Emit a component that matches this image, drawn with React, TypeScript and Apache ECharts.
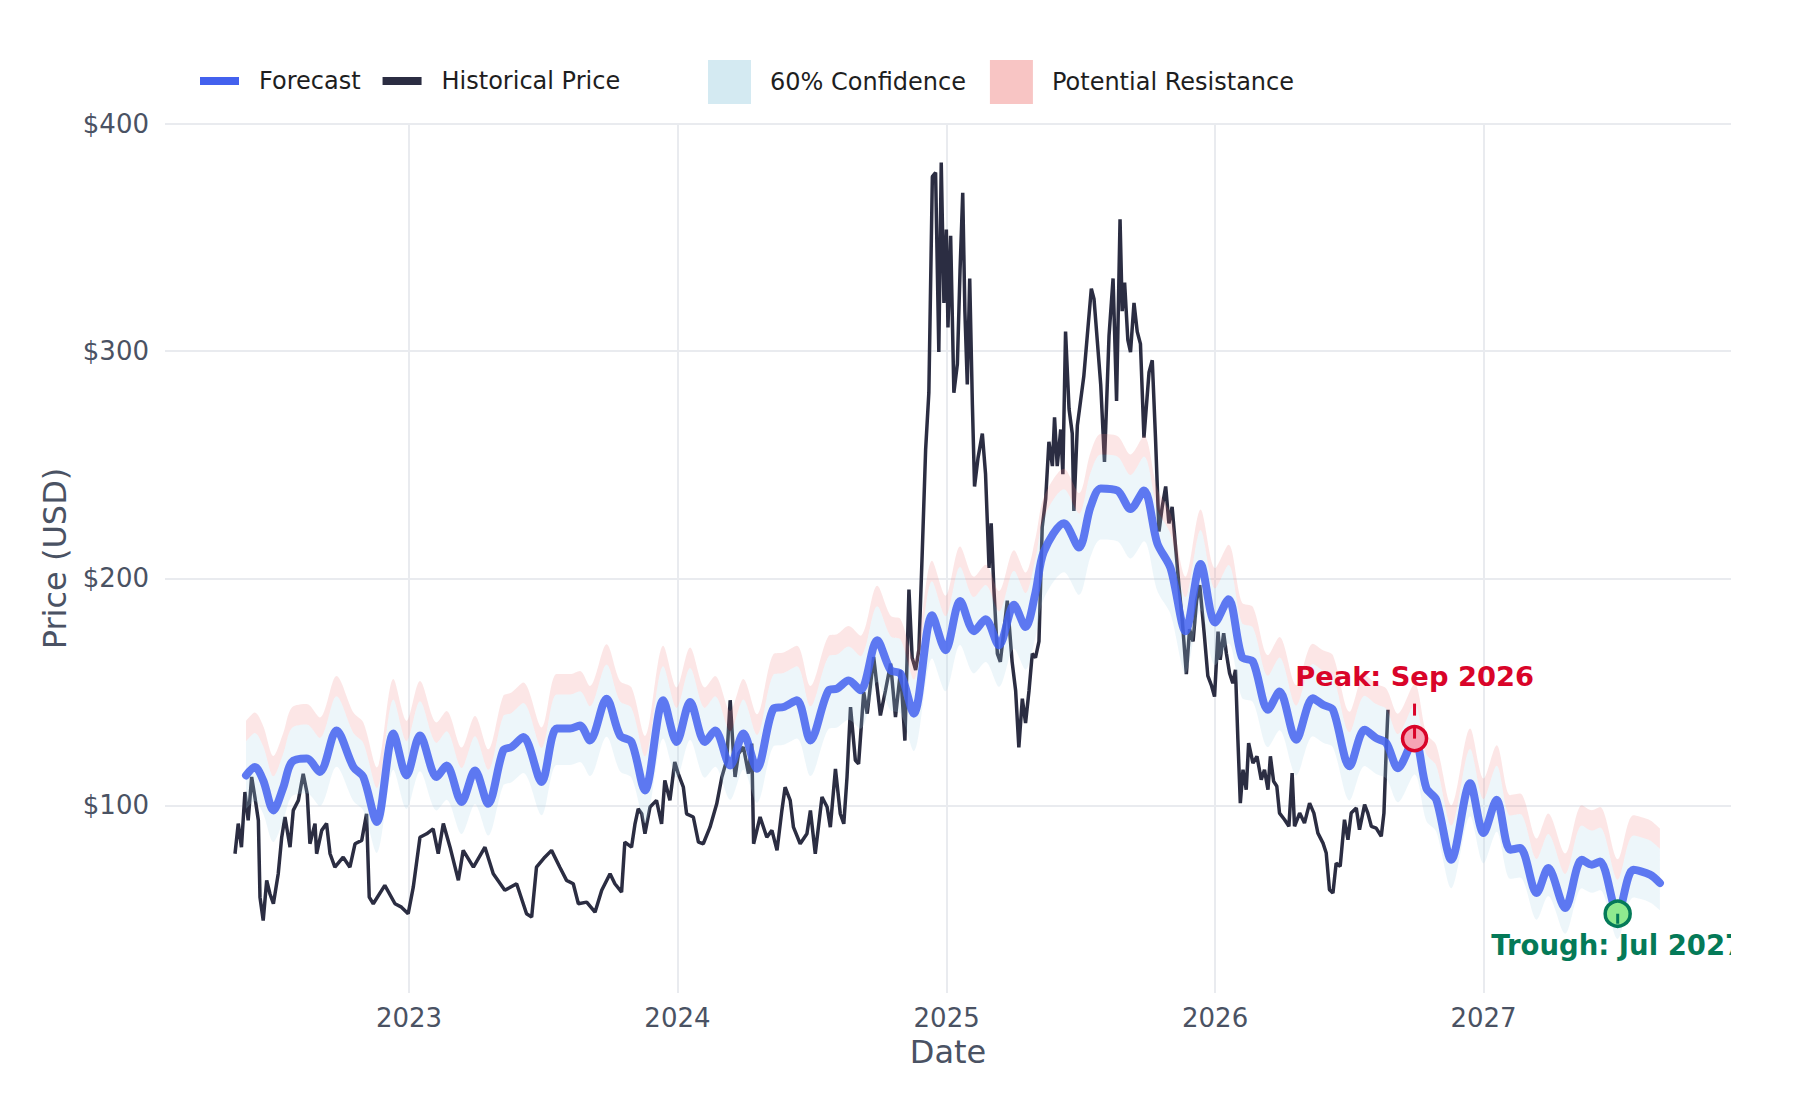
import React, { useEffect, useRef } from 'react';
import * as echarts from 'echarts';

// ---------- DATA ----------
// Historical price: [decimal year, USD]
const historicalPrice: [number, number][] = [
  [2022.352, 78.7], [2022.364, 92], [2022.376, 81.6], [2022.389, 105.9], [2022.401, 93.4], [2022.414, 112.5],
  [2022.426, 103.7], [2022.439, 93.4], [2022.445, 59.6], [2022.457, 49.3], [2022.47, 67], [2022.482, 61.1],
  [2022.495, 56.7], [2022.513, 69.9], [2022.526, 86], [2022.538, 94.9], [2022.557, 81.6], [2022.569, 97.8],
  [2022.588, 102.2], [2022.606, 113.9], [2022.621, 105.1], [2022.631, 83.1], [2022.65, 92], [2022.656, 78.7],
  [2022.675, 89], [2022.693, 92], [2022.706, 78.7], [2022.724, 72.8], [2022.755, 77.2], [2022.78, 72.8],
  [2022.799, 83.1], [2022.824, 84.6], [2022.842, 96.3], [2022.852, 59.6], [2022.867, 56.7], [2022.91, 64.8],
  [2022.948, 56.7], [2022.972, 55.2], [2022.997, 52.3], [2023.016, 64], [2023.041, 86], [2023.066, 87.5],
  [2023.09, 89.7], [2023.109, 78.7], [2023.128, 92], [2023.153, 81.6], [2023.184, 67], [2023.202, 80.2],
  [2023.24, 72.8], [2023.283, 81.6], [2023.314, 69.9], [2023.357, 62.6], [2023.401, 65.5], [2023.438, 52.3],
  [2023.457, 50.8], [2023.475, 72.8], [2023.506, 77.2], [2023.531, 80.2], [2023.562, 72.8], [2023.587, 67],
  [2023.612, 65.5], [2023.631, 56.7], [2023.662, 57.4], [2023.693, 53], [2023.718, 62.6], [2023.749, 69.9],
  [2023.767, 65.5], [2023.792, 61.8], [2023.804, 83.8], [2023.829, 81.6], [2023.842, 91.9], [2023.854, 98.5],
  [2023.867, 96.3], [2023.879, 87.5], [2023.898, 99.3], [2023.922, 102.2], [2023.941, 91.9], [2023.953, 111],
  [2023.972, 102.2], [2023.99, 119.1], [2024.003, 114], [2024.022, 108], [2024.034, 96.3], [2024.059, 94.9],
  [2024.078, 83.8], [2024.096, 83.1], [2024.121, 90.4], [2024.146, 100.7], [2024.165, 112.5], [2024.183, 119.8],
  [2024.196, 146.3], [2024.208, 122.8], [2024.214, 112.5], [2024.227, 122.8], [2024.245, 125.7], [2024.264, 114],
  [2024.276, 127.2], [2024.283, 83.1], [2024.307, 94.9], [2024.332, 86], [2024.351, 89], [2024.37, 80.2],
  [2024.388, 97.8], [2024.4, 108], [2024.419, 102.2], [2024.431, 90.4], [2024.456, 83.1], [2024.481, 87.5],
  [2024.494, 97.8], [2024.512, 78.7], [2024.537, 103.7], [2024.556, 99.3], [2024.568, 90.4], [2024.587, 116.1],
  [2024.605, 96.3], [2024.618, 91.9], [2024.63, 112.5], [2024.643, 143.3], [2024.661, 119.8], [2024.673, 118.3],
  [2024.692, 149.9], [2024.705, 140.4], [2024.729, 165.3], [2024.754, 139.6], [2024.773, 150.7], [2024.792, 162.4],
  [2024.81, 138.9], [2024.829, 159.5], [2024.845, 128.5], [2024.86, 195], [2024.872, 165], [2024.885, 159.6],
  [2024.897, 168.6], [2024.909, 209.9], [2024.922, 256.6], [2024.934, 281.7], [2024.947, 376.8], [2024.959, 378.6],
  [2024.971, 299.6], [2024.98, 383], [2024.99, 321.2], [2024.999, 353.5], [2025.005, 310.4], [2025.015, 350.8],
  [2025.027, 281.7], [2025.04, 294.3], [2025.05, 335.5], [2025.06, 369.7], [2025.068, 317.6], [2025.077, 285.3],
  [2025.086, 332], [2025.096, 276.3], [2025.104, 240.4], [2025.117, 253], [2025.133, 263.7], [2025.145, 245.8],
  [2025.158, 204.5], [2025.166, 224.2], [2025.176, 195.5], [2025.189, 166.8], [2025.2, 163.2], [2025.226, 190.1],
  [2025.244, 163.2], [2025.257, 150.6], [2025.269, 125.5], [2025.282, 147], [2025.294, 136.3], [2025.307, 150.6],
  [2025.319, 166.8], [2025.331, 165], [2025.344, 172.2], [2025.356, 222.4], [2025.369, 235], [2025.381, 260.1],
  [2025.394, 249.4], [2025.402, 270.9], [2025.412, 249.4], [2025.425, 265.5], [2025.433, 245.8], [2025.443, 308.6],
  [2025.456, 274.5], [2025.468, 263.7], [2025.474, 229.6], [2025.487, 267.3], [2025.499, 278.1], [2025.511, 288.9],
  [2025.524, 306.8], [2025.539, 327.5], [2025.549, 323], [2025.561, 305], [2025.574, 285.3], [2025.588, 251.2],
  [2025.605, 306.8], [2025.62, 332], [2025.633, 278.1], [2025.646, 358], [2025.654, 317.6], [2025.663, 330.2],
  [2025.675, 305], [2025.685, 299.6], [2025.698, 321.2], [2025.71, 308.6], [2025.722, 303.2], [2025.735, 261.9],
  [2025.754, 290.7], [2025.766, 296], [2025.778, 261.9], [2025.791, 220.6], [2025.803, 231.4], [2025.816, 240.4],
  [2025.828, 224.2], [2025.84, 231.4], [2025.853, 213.5], [2025.865, 197.3], [2025.878, 181.1], [2025.893, 157.8],
  [2025.905, 177.6], [2025.918, 172.2], [2025.931, 190.1], [2025.943, 197], [2025.96, 175], [2025.973, 157],
  [2025.986, 153], [2025.998, 147.9], [2026.011, 176.5], [2026.019, 164.1], [2026.032, 175.8], [2026.042, 167],
  [2026.054, 158.2], [2026.066, 153.8], [2026.076, 159.7], [2026.085, 128.9], [2026.094, 101], [2026.104, 115.7],
  [2026.116, 106.9], [2026.125, 127.4], [2026.141, 118.6], [2026.156, 121.6], [2026.172, 111.3], [2026.184, 115.7],
  [2026.197, 106.9], [2026.206, 121.6], [2026.218, 110.6], [2026.23, 108.4], [2026.24, 96.6], [2026.259, 93.7],
  [2026.275, 90.8], [2026.287, 114.2], [2026.296, 90.8], [2026.315, 96.6], [2026.333, 92.2], [2026.352, 101],
  [2026.368, 96.6], [2026.383, 87.8], [2026.402, 83.4], [2026.414, 79], [2026.426, 62.9], [2026.439, 61.4],
  [2026.451, 74.6], [2026.466, 73.2], [2026.482, 93.7], [2026.495, 84.9], [2026.507, 96.6], [2026.526, 98.8],
  [2026.538, 89.3], [2026.557, 100.3], [2026.569, 96.6], [2026.582, 90.8], [2026.6, 90], [2026.619, 86.4],
  [2026.629, 96.6], [2026.638, 126], [2026.644, 142.1],
];

// Forecast (decimal years) and its bands
const forecastDates = [
  2022.393, 2022.426, 2022.457, 2022.495, 2022.532, 2022.563, 2022.619, 2022.668, 2022.73, 2022.793,
  2022.83, 2022.88, 2022.942, 2022.991, 2023.041, 2023.103, 2023.14, 2023.196, 2023.246, 2023.295,
  2023.351, 2023.382, 2023.426, 2023.494, 2023.55, 2023.6, 2023.637, 2023.674, 2023.736, 2023.786,
  2023.829, 2023.879, 2023.947, 2023.997, 2024.047, 2024.102, 2024.14, 2024.196, 2024.245, 2024.295,
  2024.357, 2024.394, 2024.444, 2024.494, 2024.562, 2024.593, 2024.636, 2024.68, 2024.742, 2024.792,
  2024.829, 2024.878, 2024.946, 2024.996, 2025.05, 2025.102, 2025.145, 2025.195, 2025.251, 2025.294,
  2025.331, 2025.362, 2025.437, 2025.493, 2025.536, 2025.574, 2025.636, 2025.685, 2025.735, 2025.785,
  2025.834, 2025.89, 2025.946, 2026.0, 2026.05, 2026.1, 2026.141, 2026.197, 2026.24, 2026.302,
  2026.364, 2026.402, 2026.439, 2026.501, 2026.557, 2026.6, 2026.638, 2026.681, 2026.743, 2026.787,
  2026.824, 2026.88, 2026.95, 2027.0, 2027.049, 2027.099, 2027.136, 2027.198, 2027.241, 2027.304,
  2027.366, 2027.403, 2027.434, 2027.4997, 2027.558, 2027.62, 2027.657,
];
const forecastValues = [
  113.2, 116.9, 111, 97.8, 108, 119, 120.6, 114.7, 133, 116.9,
  112.5, 92.7, 131.6, 113.2, 130.8, 112.5, 117.6, 101.5, 115.4, 100.7,
  124.2, 125.7, 130.1, 110.3, 133.8, 133.8, 135.2, 128.6, 147, 130.8,
  127.9, 106.6, 146.3, 127.9, 145.5, 127.9, 133, 117.6, 131.6, 116.1,
  142.6, 143.3, 146.3, 128.6, 150.7, 151.4, 155, 150.7, 172.7, 159.5,
  158, 140.4, 183.7, 168.3, 190, 176.7, 182, 170.4, 188.3, 178.5,
  193.7, 211.7, 224.2, 213.5, 231.4, 239.5, 238.6, 230.5, 238.6, 215.3,
  204.5, 176.7, 206.3, 180.5, 190.8, 165.3, 163.3, 142.1, 150.1, 128.9,
  147.2, 144.3, 142.1, 117.2, 133.3, 129.6, 127.4, 116.4, 129.4, 107.6,
  102.5, 76.1, 109.8, 87.8, 102.5, 80.5, 81.2, 61.4, 72.4, 54.8,
  76.1, 73.9, 75.3, 52.3, 71.7, 69.5, 65.8,
];
const confidenceLower = [
  98.4, 101.9, 96.3, 83.9, 93.5, 103.9, 105.4, 99.8, 117, 101.9,
  97.8, 79.1, 115.7, 98.4, 115, 97.8, 102.5, 87.4, 100.5, 86.7,
  108.7, 110.2, 114.3, 95.7, 117.8, 117.8, 119.1, 112.9, 130.2, 115,
  112.2, 92.2, 129.5, 112.2, 128.8, 112.2, 117, 102.5, 115.7, 101.1,
  126, 126.7, 129.5, 112.9, 133.7, 134.3, 137.7, 133.7, 154.3, 141.9,
  140.5, 124, 164.7, 150.2, 170.6, 158.1, 163.1, 152.2, 169, 159.8,
  174.1, 191, 202.7, 192.7, 209.5, 217.1, 216.3, 208.7, 216.3, 194.4,
  184.2, 158.1, 185.9, 161.7, 171.4, 147.4, 145.5, 125.6, 133.1, 113.2,
  130.4, 127.6, 125.6, 102.2, 117.3, 113.8, 111.8, 101.4, 113.6, 93.1,
  88.4, 63.5, 95.2, 74.5, 88.4, 67.7, 68.3, 49.7, 60.1, 43.5,
  63.5, 61.5, 62.8, 41.2, 59.4, 57.3, 53.9,
];
const confidenceUpper = [
  128.2, 131.9, 126, 112.8, 123, 134, 135.6, 129.7, 148, 131.9,
  127.5, 107.7, 146.6, 128.2, 145.8, 127.5, 132.6, 116.5, 130.4, 115.7,
  139.2, 140.7, 145.1, 125.3, 148.8, 148.8, 150.2, 143.6, 162, 145.8,
  142.9, 121.6, 161.3, 142.9, 160.5, 142.9, 148, 132.6, 146.6, 131.1,
  157.6, 158.3, 161.3, 143.6, 165.7, 166.4, 170, 165.7, 187.7, 174.5,
  173, 155.4, 198.7, 183.3, 205, 191.7, 197, 185.4, 203.3, 193.5,
  208.7, 226.7, 239.2, 228.5, 246.4, 254.5, 253.6, 245.5, 253.6, 230.3,
  219.5, 191.7, 221.3, 195.5, 205.8, 180.3, 178.3, 157.1, 165.1, 143.9,
  162.2, 159.3, 157.1, 132.2, 148.3, 144.6, 142.4, 131.4, 144.4, 122.6,
  117.5, 91.1, 124.8, 102.8, 117.5, 95.5, 96.2, 76.4, 87.4, 69.8,
  91.1, 88.9, 90.3, 67.3, 86.7, 84.5, 80.8,
];
const resistanceUpper = [
  137.2, 140.9, 135, 121.8, 132, 143, 144.6, 138.7, 157, 140.9,
  136.5, 116.7, 155.6, 137.2, 154.8, 136.5, 141.6, 125.5, 139.4, 124.7,
  148.2, 149.7, 154.1, 134.3, 157.8, 157.8, 159.2, 152.6, 171, 154.8,
  151.9, 130.6, 170.3, 151.9, 169.5, 151.9, 157, 141.6, 155.6, 140.1,
  166.6, 167.3, 170.3, 152.6, 174.7, 175.4, 179, 174.7, 196.7, 183.5,
  182, 164.4, 207.7, 192.3, 214, 200.7, 206, 194.4, 212.3, 202.5,
  217.7, 235.7, 248.2, 237.5, 255.4, 263.5, 262.6, 254.5, 262.6, 239.3,
  228.5, 200.7, 230.3, 204.5, 214.8, 189.3, 187.3, 166.1, 174.1, 152.9,
  171.2, 168.3, 166.1, 141.2, 157.3, 153.6, 151.4, 140.4, 153.4, 131.6,
  126.5, 100.1, 133.8, 111.8, 126.5, 104.5, 105.2, 85.4, 96.4, 78.8,
  100.1, 97.9, 99.3, 76.3, 95.7, 93.5, 89.8,
];

// Annotations
const annotationDates = [2026.743, 2027.4997];
const annotationValues = [129.4, 52.3];
const annotationLabels = ['Peak: Sep 2026', 'Trough: Jul 2027'];

// Axis ranges (decimal years / USD)
const xRange = [2022.0912, 2027.9218];
const yRange = [17.4, 400];

const legendLineNames = ['Forecast', 'Historical Price'];
const legendAreaNames = ['60% Confidence', 'Potential Resistance'];
const axisTitles = { x: 'Date', y: 'Price (USD)' };

// ---------- helpers ----------
const toTime = (y: number) => {
  const yr = Math.floor(y);
  const start = Date.UTC(yr, 0, 1);
  const end = Date.UTC(yr + 1, 0, 1);
  return start + (y - yr) * (end - start);
};

const FONT = '"DejaVu Sans", Verdana, sans-serif';
const AXIS_COLOR = '#4a5263';
const GRID_COLOR = '#e9ebef';
const FORECAST_COLOR = '#4361ee';
const HIST_COLOR = '#2b2d42';
const PEAK_COLOR = '#d90429';
const TROUGH_COLOR = '#047a58';
const YEAR_MS = 365.25 * 86400000;

export default function App() {
  const ref = useRef<HTMLDivElement>(null);

  useEffect(() => {
    document.body.style.margin = '0';
    if (!ref.current) return;
    const chart = echarts.init(ref.current, undefined, { renderer: 'svg' });

    const fcT = forecastDates.map(toTime);
    const baseData = fcT.map((t, i) => [t, confidenceLower[i]]);
    const confData = fcT.map((t, i) => [t, +(confidenceUpper[i] - confidenceLower[i]).toFixed(2)]);
    const resData = fcT.map((t, i) => [t, +(resistanceUpper[i] - confidenceUpper[i]).toFixed(2)]);
    const fcData = fcT.map((t, i) => [t, forecastValues[i]]);
    const histData = historicalPrice.map(([d, v]) => [toTime(d), v]);
    const annData = annotationDates.map((d, i) => [toTime(d), annotationValues[i], i]);

    const option: any = {
      animation: false,
      useUTC: true,
      textStyle: { fontFamily: FONT },
      grid: { left: 165, right: 69, top: 124, bottom: 107 },
      legend: [
        {
          data: [
            { name: legendLineNames[0], itemStyle: { color: FORECAST_COLOR, opacity: 1, borderWidth: 0 } },
            { name: legendLineNames[1], itemStyle: { color: HIST_COLOR, opacity: 1, borderWidth: 0 } },
          ],
          left: 195,
          top: 64,
          icon: 'rect',
          itemWidth: 39,
          itemHeight: 8,
          itemGap: 22,
          selectedMode: false,
          textStyle: { fontSize: 24, color: '#1e1e1e', fontFamily: FONT, padding: [0, 0, 0, 15] },
        },
        {
          data: [
            { name: legendAreaNames[0], itemStyle: { color: '#d4eaf2', opacity: 1, borderWidth: 0 } },
            { name: legendAreaNames[1], itemStyle: { color: '#f8c5c4', opacity: 1, borderWidth: 0 } },
          ],
          left: 703,
          top: 55,
          icon: 'rect',
          itemWidth: 43,
          itemHeight: 44,
          itemGap: 24,
          selectedMode: false,
          textStyle: { fontSize: 24, color: '#1e1e1e', fontFamily: FONT, padding: [0, 0, 0, 14] },
        },
      ],
      xAxis: {
        type: 'time',
        min: toTime(xRange[0]),
        max: toTime(xRange[1]),
        minInterval: YEAR_MS,
        maxInterval: YEAR_MS,
        axisLine: { show: false },
        axisTick: { show: false },
        axisLabel: { formatter: '{yyyy}', fontSize: 26, color: AXIS_COLOR, margin: 12, fontFamily: FONT },
        splitLine: { show: true, showMinLine: false, showMaxLine: false, lineStyle: { color: GRID_COLOR, width: 2 } },
        name: axisTitles.x,
        nameLocation: 'middle',
        nameGap: 42,
        nameTextStyle: { fontSize: 32, color: AXIS_COLOR, fontFamily: FONT },
      },
      yAxis: {
        type: 'value',
        min: yRange[0],
        max: yRange[1],
        splitNumber: 4,
        axisLine: { show: false },
        axisTick: { show: false },
        axisLabel: {
          formatter: (v: number) => '$' + v,
          fontSize: 26,
          color: AXIS_COLOR,
          margin: 16,
          showMinLabel: false,
          fontFamily: FONT,
        },
        splitLine: { show: true, showMinLine: false, lineStyle: { color: GRID_COLOR, width: 2 } },
        name: axisTitles.y,
        nameLocation: 'middle',
        nameGap: 94,
        nameRotate: 90,
        nameTextStyle: { fontSize: 32, color: AXIS_COLOR, fontFamily: FONT },
      },
      series: [
        {
          name: legendLineNames[1],
          type: 'line',
          data: histData,
          symbol: 'none',
          showSymbol: false,
          lineStyle: { color: HIST_COLOR, width: 3.5 },
          itemStyle: { color: HIST_COLOR },
          z: 2,
        },
        {
          name: 'bandBase',
          type: 'line',
          stack: 'band',
          data: baseData,
          symbol: 'none',
          smooth: 0.3,
          lineStyle: { width: 0, opacity: 0 },
          itemStyle: { color: 'transparent' },
          z: 3,
        },
        {
          name: legendAreaNames[0],
          type: 'line',
          stack: 'band',
          data: confData,
          symbol: 'none',
          smooth: 0.3,
          lineStyle: { width: 0, opacity: 0 },
          itemStyle: { color: '#d4eaf2' },
          areaStyle: { color: 'rgba(173,216,230,0.22)', opacity: 1 },
          z: 3,
        },
        {
          name: legendAreaNames[1],
          type: 'line',
          stack: 'band',
          data: resData,
          symbol: 'none',
          smooth: 0.3,
          lineStyle: { width: 0, opacity: 0 },
          itemStyle: { color: '#f8c5c4' },
          areaStyle: { color: 'rgba(240,128,128,0.2)', opacity: 1 },
          z: 3,
        },
        {
          name: legendLineNames[0],
          type: 'line',
          data: fcData,
          symbol: 'none',
          smooth: 0.3,
          lineStyle: { color: FORECAST_COLOR, width: 8, opacity: 0.85, cap: 'round', join: 'round' },
          itemStyle: { color: FORECAST_COLOR },
          z: 4,
        },
        {
          name: 'annotations',
          type: 'custom',
          data: annData,
          clip: true,
          silent: true,
          z: 10,
          encode: { x: 0, y: 1 },
          renderItem: (_params: any, api: any) => {
            const idx = api.value(2);
            const p = api.coord([api.value(0), api.value(1)]);
            const label = annotationLabels[idx];
            if (idx === 0) {
              return {
                type: 'group',
                children: [
                  { type: 'line', shape: { x1: p[0], y1: p[1] - 35, x2: p[0], y2: p[1] - 23 }, style: { stroke: PEAK_COLOR, lineWidth: 3 } },
                  { type: 'circle', shape: { cx: p[0], cy: p[1], r: 12 }, style: { fill: '#f6a5b5', stroke: PEAK_COLOR, lineWidth: 3.5 } },
                  { type: 'line', shape: { x1: p[0], y1: p[1] - 11, x2: p[0], y2: p[1] }, style: { stroke: PEAK_COLOR, lineWidth: 3 } },
                  {
                    type: 'text',
                    x: p[0],
                    y: p[1] - 62,
                    style: { text: label, fill: PEAK_COLOR, fontSize: 27.3, fontWeight: 'bold', fontFamily: FONT, align: 'center', verticalAlign: 'middle' },
                  },
                ],
              };
            }
            return {
              type: 'group',
              children: [
                { type: 'circle', shape: { cx: p[0], cy: p[1], r: 12.5 }, style: { fill: '#8fea8f', stroke: TROUGH_COLOR, lineWidth: 3.5 } },
                { type: 'line', shape: { x1: p[0], y1: p[1], x2: p[0], y2: p[1] + 10 }, style: { stroke: TROUGH_COLOR, lineWidth: 3 } },
                {
                  type: 'text',
                  x: p[0],
                  y: p[1] + 31,
                  style: { text: label, fill: TROUGH_COLOR, fontSize: 27.5, fontWeight: 'bold', fontFamily: FONT, align: 'center', verticalAlign: 'middle' },
                },
              ],
            };
          },
        },
      ],
    };

    chart.setOption(option);
    return () => chart.dispose();
  }, []);

  return <div ref={ref} style={{ position: 'fixed', left: 0, top: 0, width: 1800, height: 1100, background: '#fff' }} />;
}
